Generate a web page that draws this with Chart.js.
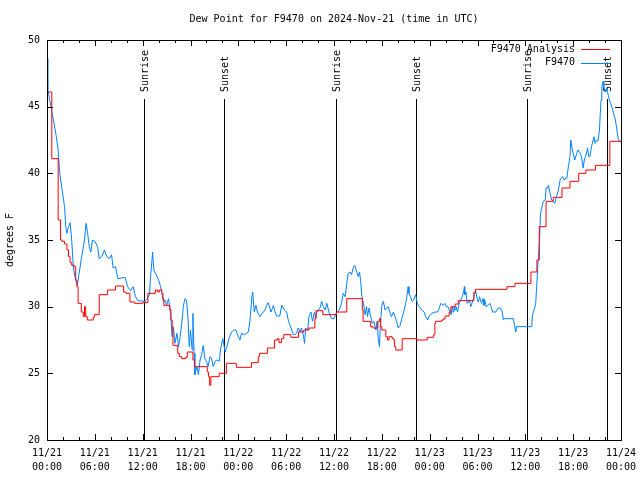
<!DOCTYPE html>
<html>
<head>
<meta charset="utf-8">
<script src="https://cdn.jsdelivr.net/npm/chart.js@4.4.0/dist/chart.umd.min.js"></script>
<style>
  body { margin: 0; background: #fff; }
</style>
</head>
<body>
<canvas id="myChart" width="640" height="480"></canvas>
<script>
// hours since 11/21 00:00 UTC
const blueHours = [0, 0.1, 0.5, 0.8, 1.1, 1.4, 1.6, 1.9, 2.2, 2.35, 2.5, 2.7, 2.9, 3.1, 3.3, 3.5, 3.8, 3.9, 4.35, 4.7, 4.9, 5.1, 5.3, 5.5, 5.7, 6.0, 6.35, 6.55, 6.85, 7.2, 7.5, 7.8, 8.1, 8.3, 8.6, 8.9, 9.8, 10.1, 10.5, 10.8, 11.1, 11.4, 12.3, 12.5, 12.85, 13.0, 13.25, 13.4, 13.7, 14.0, 14.25, 14.4, 14.6, 14.8, 15.0, 15.25, 15.5, 15.7, 15.85, 16.05, 16.3, 16.5, 16.7, 16.9, 17.1, 17.3, 17.5, 17.7, 17.85, 18.0, 18.2, 18.3, 18.45, 18.55, 18.8, 19.0, 19.2, 19.4, 19.6, 19.8, 20.0, 20.2, 20.45, 20.65, 20.85, 21.1, 21.3, 21.6, 21.8, 22.05, 22.2, 22.35, 22.6, 22.9, 23.15, 23.45, 23.7, 23.9, 24.2, 24.4, 24.8, 25.25, 25.45, 25.7, 25.8, 26.0, 26.2, 26.4, 26.7, 27.0, 27.35, 27.55, 27.75, 28.1, 28.4, 28.6, 28.8, 29.2, 29.45, 29.8, 30.05, 30.3, 30.5, 30.7, 30.9, 31.1, 31.3, 31.5, 31.75, 31.9, 32.15, 32.3, 32.45, 32.7, 32.85, 33.1, 33.3, 33.55, 33.7, 33.85, 34.0, 34.25, 34.45, 34.65, 34.9, 35.1, 35.3, 35.5, 35.7, 36.0, 36.25, 36.5, 36.75, 36.95, 37.15, 37.4, 37.6, 37.8, 38.0, 38.2, 38.4, 38.6, 38.85, 39.05, 39.2, 39.35, 39.5, 39.7, 39.9, 40.1, 40.2, 40.4, 40.6, 40.8, 41.0, 41.25, 41.4, 41.55, 41.7, 41.8, 42.0, 42.2, 42.4, 42.6, 42.8, 43.0, 43.2, 43.45, 43.65, 43.85, 44.05, 44.3, 44.5, 44.7, 44.9, 45.1, 45.3, 45.4, 45.6, 45.8, 46.0, 46.25, 46.45, 46.7, 47.0, 47.3, 47.5, 47.75, 47.9, 48.25, 48.7, 49.0, 49.2, 49.4, 49.7, 49.9, 50.1, 50.3, 50.55, 50.7, 50.85, 50.95, 51.05, 51.2, 51.3, 51.5, 51.7, 51.9, 52.1, 52.3, 52.35, 52.4, 52.55, 52.7, 52.85, 53.0, 53.15, 53.3, 53.5, 53.6, 53.8, 53.95, 54.1, 54.25, 54.5, 54.7, 54.8, 54.9, 55.1, 55.3, 55.55, 55.7, 55.9, 56.3, 56.6, 56.9, 57.1, 57.25, 57.4, 58.5, 58.7, 58.8, 58.9, 60.8, 60.9, 61.1, 61.3, 61.4, 61.55, 61.7, 61.8, 61.9, 62.1, 62.25, 62.5, 62.6, 62.75, 62.9, 63.1, 63.3, 63.5, 63.7, 63.9, 64.1, 64.25, 64.4, 64.7, 64.85, 65.0, 65.2, 65.4, 65.6, 65.7, 65.85, 66.0, 66.2, 66.45, 66.6, 66.8, 67.05, 67.25, 67.4, 67.55, 67.7, 67.8, 67.95, 68.1, 68.3, 68.4, 68.6, 68.75, 68.9, 69.1, 69.3, 69.4, 69.5, 69.6, 69.75, 69.85, 70.0, 70.2, 70.35, 70.5, 70.7, 70.9, 71.1, 71.3, 71.45, 71.65, 71.8, 72.0];
const blueValues = [48.6, 46.3, 45.0, 44.0, 43.0, 41.75, 40.0, 38.75, 37.5, 36.0, 35.5, 36.0, 36.3, 35.0, 33.0, 32.25, 31.6, 32.0, 33.75, 35.0, 36.25, 35.5, 34.5, 34.1, 35.0, 34.9, 34.5, 33.6, 33.75, 34.25, 33.75, 33.6, 33.9, 32.9, 33.0, 32.1, 32.2, 31.5, 31.2, 31.5, 30.75, 30.45, 30.4, 30.5, 30.9, 32.25, 34.1, 32.75, 32.4, 32.0, 31.5, 31.0, 30.4, 30.5, 30.1, 30.6, 29.5, 27.75, 28.5, 27.25, 28.0, 27.0, 27.75, 28.75, 30.0, 30.6, 30.5, 29.0, 27.0, 28.25, 26.75, 29.5, 26.5, 24.9, 25.5, 24.9, 26.0, 26.4, 27.1, 26.1, 25.9, 25.5, 26.25, 26.1, 25.5, 25.9, 26.0, 25.9, 26.9, 27.6, 27.1, 26.6, 27.1, 27.75, 28.1, 28.25, 28.25, 27.9, 27.5, 28.0, 27.9, 28.1, 28.9, 30.75, 31.1, 29.6, 30.1, 29.6, 29.25, 29.5, 29.75, 30.1, 30.3, 29.6, 30.1, 29.6, 29.3, 29.3, 30.1, 29.75, 29.6, 28.9, 28.6, 28.25, 27.9, 27.9, 28.0, 28.4, 28.1, 28.4, 27.9, 27.25, 28.4, 28.25, 29.25, 29.6, 28.9, 29.6, 29.1, 29.6, 29.75, 29.9, 30.4, 30.0, 29.75, 30.25, 29.75, 29.4, 29.1, 29.1, 29.5, 29.6, 29.9, 30.25, 31.0, 30.75, 31.75, 32.5, 32.6, 32.4, 32.9, 33.1, 32.6, 32.25, 32.6, 31.9, 30.75, 30.25, 29.4, 30.0, 29.25, 29.9, 29.25, 28.75, 28.9, 28.25, 28.9, 27.6, 27.0, 28.5, 30.1, 30.4, 29.75, 29.9, 30.0, 29.6, 29.25, 29.6, 29.25, 28.9, 28.4, 28.6, 29.1, 29.5, 30.0, 30.6, 31.5, 31.0, 30.75, 30.4, 30.5, 30.9, 30.25, 30.0, 29.75, 29.6, 29.25, 29.0, 29.25, 29.5, 29.6, 29.6, 29.9, 30.25, 30.1, 30.25, 30.0, 30.0, 29.6, 29.4, 30.0, 29.6, 30.0, 29.75, 30.0, 29.6, 30.25, 30.5, 30.75, 31.25, 31.5, 30.9, 31.1, 30.25, 30.35, 30.5, 30.0, 30.25, 30.6, 30.9, 31.1, 30.6, 30.35, 30.75, 30.25, 30.6, 30.1, 30.5, 30.0, 30.1, 30.25, 30.0, 29.6, 29.6, 29.9, 29.9, 29.6, 29.0, 29.1, 29.1, 28.4, 28.1, 28.5, 28.5, 29.4, 29.75, 30.25, 31.25, 32.9, 34.25, 35.25, 37.0, 37.5, 37.9, 38.0, 38.9, 38.9, 39.1, 38.5, 38.0, 37.9, 37.75, 38.25, 38.6, 39.1, 39.6, 39.75, 39.5, 39.6, 39.6, 40.5, 41.25, 42.5, 41.9, 41.5, 41.0, 41.5, 41.75, 41.6, 41.25, 40.4, 41.0, 41.25, 41.6, 41.9, 41.25, 41.25, 42.0, 42.25, 42.75, 42.25, 42.5, 42.4, 43.25, 44.5, 45.5, 46.5, 46.9, 46.5, 46.1, 46.4, 46.0, 45.6, 45.25, 44.9, 44.4, 44.0, 43.4, 42.6, 42.4, 42.4];

// analysis: value holds from each hour until the next one
const redHours = [0, 0.6, 1.4, 1.7, 1.9, 2.2, 2.5, 2.7, 2.9, 3.1, 3.4, 3.6, 3.75, 3.9, 4.3, 4.55, 4.7, 4.85, 5.05, 5.8, 5.95, 6.55, 7.6, 8.6, 9.6, 9.9, 10.4, 11.0, 12.0, 12.65, 13.6, 13.9, 14.1, 14.4, 14.55, 14.65, 15.4, 15.55, 15.7, 15.8, 16.4, 16.6, 16.9, 17.4, 17.6, 18.3, 18.5, 20.1, 20.25, 20.4, 20.55, 21.6, 22.5, 23.75, 25.65, 26.5, 26.65, 27.65, 28.55, 28.9, 29.1, 29.4, 29.7, 30.6, 31.55, 32.2, 32.85, 33.6, 33.75, 34.6, 36.3, 37.6, 39.55, 39.65, 40.6, 40.9, 41.5, 41.7, 41.85, 42.0, 42.5, 42.7, 42.9, 43.3, 43.5, 43.6, 43.75, 44.55, 46.4, 47.7, 48.5, 48.65, 48.75, 49.5, 49.75, 49.95, 50.45, 50.65, 51.2, 51.6, 53.55, 53.75, 57.7, 58.7, 60.7, 61.45, 61.75, 62.6, 63.5, 64.6, 65.6, 66.7, 67.6, 68.8, 70.6, 72.0];
const redValues = [46.1, 41.1, 36.5, 35.0, 34.9, 34.7, 34.25, 33.75, 33.3, 33.1, 33.0, 32.0, 31.5, 30.25, 29.6, 29.25, 30.0, 29.25, 29.0, 29.2, 29.4, 30.9, 31.25, 31.55, 31.1, 31.0, 30.35, 30.25, 30.3, 31.0, 31.25, 31.1, 31.25, 31.0, 30.6, 30.1, 29.75, 29.0, 28.25, 27.1, 26.5, 26.25, 26.1, 26.2, 26.6, 26.0, 25.5, 25.1, 24.75, 24.1, 24.75, 25.0, 25.75, 25.45, 25.8, 26.25, 26.5, 26.9, 27.5, 27.6, 27.3, 27.6, 27.9, 27.7, 28.1, 28.25, 28.4, 29.1, 29.7, 29.4, 29.6, 30.6, 29.75, 28.9, 28.5, 28.4, 28.9, 29.1, 28.5, 28.25, 27.75, 27.5, 27.75, 27.6, 27.5, 27.0, 26.75, 27.6, 27.5, 27.7, 27.9, 28.75, 28.9, 29.0, 29.1, 29.3, 29.6, 30.0, 30.2, 30.45, 31.1, 31.3, 31.5, 31.75, 32.6, 33.5, 36.0, 37.9, 38.2, 38.9, 39.4, 40.0, 40.25, 40.6, 42.4, 42.4];

const eventHours = [12.2, 22.24, 36.29, 46.32, 60.25, 70.28];
const eventLabels = ["Sunrise", "Sunset", "Sunrise", "Sunset", "Sunrise", "Sunset"];

const tickDates = ["11/21", "11/21", "11/21", "11/21", "11/22", "11/22", "11/22", "11/22", "11/23", "11/23", "11/23", "11/23", "11/24"];
const tickTimes = ["00:00", "06:00", "12:00", "18:00", "00:00", "06:00", "12:00", "18:00", "00:00", "06:00", "12:00", "18:00", "00:00"];

const FONT = "DejaVu Sans Mono";

const toPoints = (xs, ys) => xs.map((x, i) => ({ x: x, y: ys[i] }));

const gnuplotDecor = {
  id: "gnuplotDecor",
  beforeDatasetsDraw(chart) {
    const c = chart.ctx;
    const a = chart.chartArea;
    const xs = chart.scales.x;
    c.save();
    c.strokeStyle = "#000";
    c.lineWidth = 1;
    c.fillStyle = "#000";
    c.font = "10px " + FONT;
    eventHours.forEach((h, i) => {
      const px = Math.round(xs.getPixelForValue(h)) + 0.5;
      c.beginPath();
      c.moveTo(px, a.top + 59);
      c.lineTo(px, a.bottom);
      c.stroke();
      c.save();
      c.translate(px + 1, a.top + 52);
      c.rotate(-Math.PI / 2);
      c.textAlign = "left";
      c.textBaseline = "middle";
      c.fillText(eventLabels[i], 0, 0);
      c.restore();
    });
    c.restore();
  },
  afterDraw(chart) {
    const c = chart.ctx;
    const a = chart.chartArea;
    const xs = chart.scales.x;
    const ys = chart.scales.y;
    c.save();
    c.strokeStyle = "#000";
    c.lineWidth = 1;
    // inward ticks, mirrored on top and right
    c.beginPath();
    xs.ticks.forEach((t) => {
      const px = Math.round(xs.getPixelForValue(t.value)) + 0.5;
      const len = t.value % 6 === 0 ? 6 : 3;
      c.moveTo(px, a.bottom);
      c.lineTo(px, a.bottom - len);
      c.moveTo(px, a.top);
      c.lineTo(px, a.top + len);
    });
    ys.ticks.forEach((t) => {
      const py = Math.round(ys.getPixelForValue(t.value)) + 0.5;
      c.moveTo(a.left, py);
      c.lineTo(a.left + 6, py);
      c.moveTo(a.right, py);
      c.lineTo(a.right - 6, py);
    });
    c.stroke();
    c.strokeRect(a.left + 0.5, a.top + 0.5, a.right - a.left, a.bottom - a.top);

    // title and y title
    c.fillStyle = "#000";
    c.font = "10px " + FONT;
    c.textAlign = "center";
    c.textBaseline = "middle";
    c.fillText("Dew Point for F9470 on 2024-Nov-21 (time in UTC)", (a.left + a.right) / 2, 19);
    c.save();
    c.translate(10, (a.top + a.bottom) / 2);
    c.rotate(-Math.PI / 2);
    c.fillText("degrees F", 0, 0);
    c.restore();

    // legend, top right inside the plot
    chart.data.datasets.forEach((ds, i) => {
      const ly = a.top + 9 + i * 13.5;
      c.textAlign = "right";
      c.fillStyle = "#000";
      c.fillText(ds.label, a.right - 46, ly);
      c.strokeStyle = ds.borderColor;
      c.beginPath();
      c.moveTo(a.right - 40, Math.round(ly) + 0.5);
      c.lineTo(a.right - 11, Math.round(ly) + 0.5);
      c.stroke();
    });
    c.restore();
  },
};

const data = {
  datasets: [
    {
      label: "F9470 Analysis",
      data: toPoints(redHours, redValues),
      borderColor: "rgb(255, 0, 0)",
      borderWidth: 1,
      stepped: "before",
      pointRadius: 0,
    },
    {
      label: "F9470",
      data: toPoints(blueHours, blueValues),
      borderColor: "rgb(0, 128, 255)",
      borderWidth: 1,
      pointRadius: 0,
      tension: 0,
    },
  ],
};

const config = {
  type: "line",
  data: data,
  plugins: [gnuplotDecor],
  options: {
    responsive: false,
    animation: false,
    devicePixelRatio: 1,
    layout: { padding: { top: 40, right: 19, left: 0, bottom: 0 } },
    plugins: {
      legend: { display: false },
      title: { display: false },
      tooltip: { enabled: false },
    },
    scales: {
      x: {
        type: "linear",
        min: 0,
        max: 72,
        grid: { display: false, drawTicks: false },
        border: { display: false },
        afterFit: (s) => {
          s.height = 40;
          s.paddingLeft = 0;
          s.paddingRight = 0;
        },
        ticks: {
          stepSize: 2,
          autoSkip: false,
          maxRotation: 0,
          padding: 6,
          color: "#000",
          font: { family: FONT, size: 10, lineHeight: 1.4 },
          callback: (v) => (v % 6 === 0 ? [tickDates[v / 6], tickTimes[v / 6]] : ""),
        },
      },
      y: {
        min: 20,
        max: 50,
        grid: { display: false, drawTicks: false },
        border: { display: false },
        afterFit: (s) => {
          s.width = 47;
          s.paddingTop = 0;
          s.paddingBottom = 0;
        },
        ticks: {
          stepSize: 5,
          padding: 7,
          color: "#000",
          font: { family: FONT, size: 10 },
        },
      },
    },
  },
};

const myChart = new Chart(document.getElementById("myChart"), config);
</script>
</body>
</html>
